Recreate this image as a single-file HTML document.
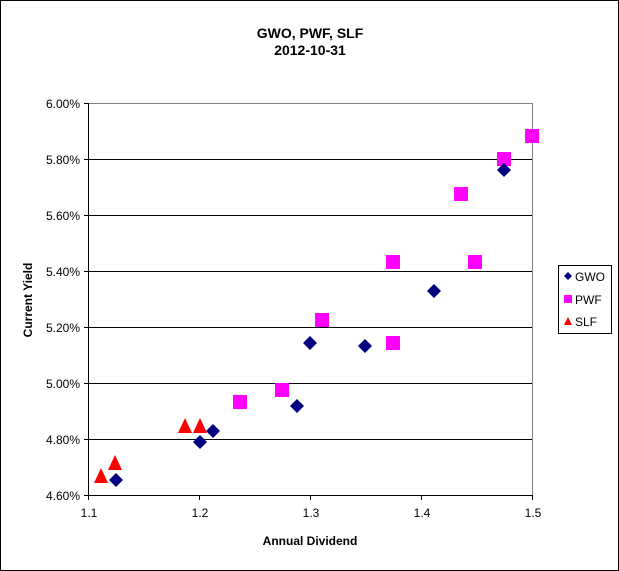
<!DOCTYPE html>
<html><head><style>body{margin:0}svg{display:block}</style></head><body>
<svg width="619" height="571" xmlns="http://www.w3.org/2000/svg" font-family="Liberation Sans, Arial, sans-serif">
<rect x="0.5" y="0.5" width="618" height="570" fill="#fff" stroke="#000"/>
<text x="310" y="38" text-anchor="middle" font-size="14" font-weight="bold">GWO, PWF, SLF</text>
<text x="310" y="55" text-anchor="middle" font-size="14" font-weight="bold">2012-10-31</text>
<g stroke="#000" stroke-width="1">
<line x1="88" y1="103.5" x2="533" y2="103.5" stroke="#808080"/>
<line x1="88" y1="159.5" x2="533" y2="159.5"/>
<line x1="88" y1="215.5" x2="533" y2="215.5"/>
<line x1="88" y1="271.5" x2="533" y2="271.5"/>
<line x1="88" y1="327.5" x2="533" y2="327.5"/>
<line x1="88" y1="383.5" x2="533" y2="383.5"/>
<line x1="88" y1="439.5" x2="533" y2="439.5"/>
<line x1="532.5" y1="103" x2="532.5" y2="496" stroke="#808080"/>
<line x1="88.5" y1="103" x2="88.5" y2="496"/>
<line x1="84" y1="495.5" x2="533" y2="495.5"/>
<g>
<line x1="84" y1="103.5" x2="88" y2="103.5"/><line x1="84" y1="159.5" x2="88" y2="159.5"/><line x1="84" y1="215.5" x2="88" y2="215.5"/><line x1="84" y1="271.5" x2="88" y2="271.5"/><line x1="84" y1="327.5" x2="88" y2="327.5"/><line x1="84" y1="383.5" x2="88" y2="383.5"/><line x1="84" y1="439.5" x2="88" y2="439.5"/>
<line x1="88.5" y1="496" x2="88.5" y2="500"/><line x1="199.5" y1="496" x2="199.5" y2="500"/><line x1="310.5" y1="496" x2="310.5" y2="500"/><line x1="421.5" y1="496" x2="421.5" y2="500"/><line x1="532.5" y1="496" x2="532.5" y2="500"/>
</g></g>
<g font-size="12" text-anchor="end">
<text x="80" y="108">6.00%</text><text x="80" y="164">5.80%</text><text x="80" y="220">5.60%</text><text x="80" y="276">5.40%</text><text x="80" y="332">5.20%</text><text x="80" y="388">5.00%</text><text x="80" y="444">4.80%</text><text x="80" y="500">4.60%</text>
</g>
<g font-size="12" text-anchor="middle">
<text x="89" y="517">1.1</text><text x="200" y="517">1.2</text><text x="311" y="517">1.3</text><text x="422" y="517">1.4</text><text x="533" y="517">1.5</text>
</g>
<text x="310" y="545" text-anchor="middle" font-size="12" font-weight="bold">Annual Dividend</text>
<text transform="translate(32,300) rotate(-90)" text-anchor="middle" font-size="12" font-weight="bold">Current Yield</text>
<g fill="#ff00ff">
<rect x="233" y="395" width="14" height="14"/><rect x="275" y="383" width="14" height="14"/><rect x="315" y="313" width="14" height="14"/><rect x="386" y="255" width="14" height="14"/><rect x="386" y="336" width="14" height="14"/><rect x="454" y="187" width="14" height="14"/><rect x="468" y="255" width="14" height="14"/><rect x="497" y="152" width="14" height="14"/><rect x="525" y="129" width="14" height="14"/>
</g>
<g fill="#000080">
<path d="M116 473l7 7-7 7-7-7z"/><path d="M200 435l7 7-7 7-7-7z"/><path d="M213 424l7 7-7 7-7-7z"/><path d="M297 399l7 7-7 7-7-7z"/><path d="M310 336l7 7-7 7-7-7z"/><path d="M365 339l7 7-7 7-7-7z"/><path d="M434 284l7 7-7 7-7-7z"/><path d="M504 163l7 7-7 7-7-7z"/>
</g>
<g fill="#ff0000">
<path d="M101 468l7 15h-14z"/><path d="M115 455l7 15h-14z"/><path d="M185 418l7 15h-14z"/><path d="M200 418l7 15h-14z"/>
</g>
<rect x="558.5" y="265.5" width="53" height="68" fill="#fff" stroke="#000"/>
<path d="M568 272l4 4-4 4-4-4z" fill="#000080"/>
<rect x="564" y="295" width="8" height="8" fill="#ff00ff"/>
<path d="M568 317l4 8h-8z" fill="#ff0000"/>
<g font-size="12"><text x="575" y="281">GWO</text><text x="575" y="304">PWF</text><text x="575" y="326">SLF</text></g>
</svg>
</body></html>
